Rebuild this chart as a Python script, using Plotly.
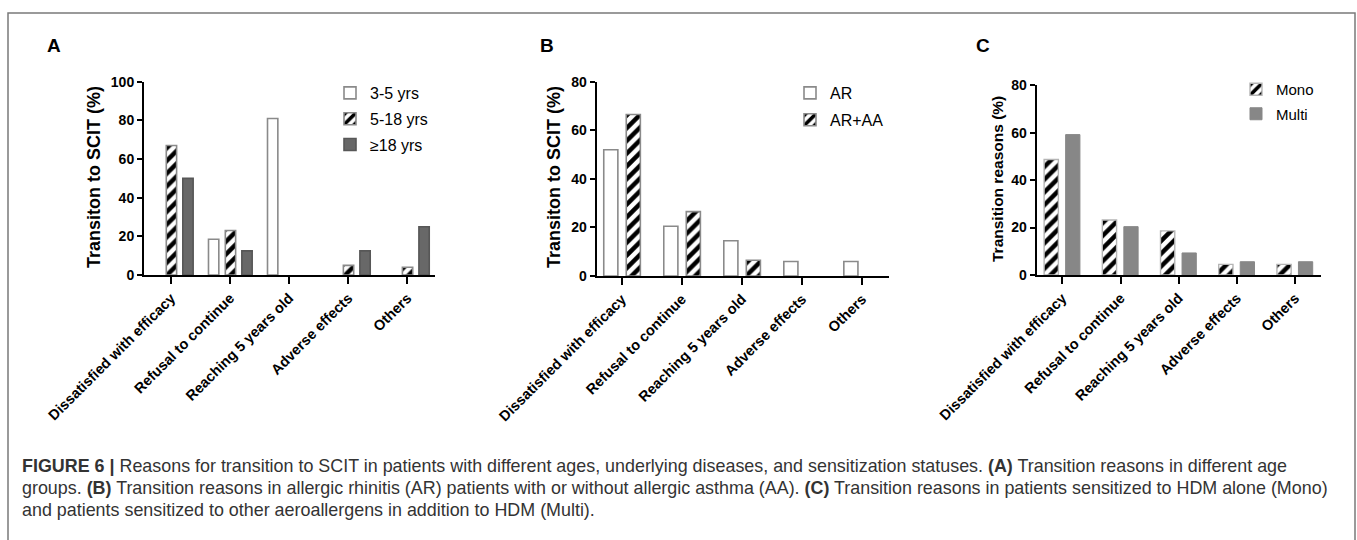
import plotly.graph_objects as go

W, H = 1357, 540

categories = ["Dissatisfied with efficacy", "Refusal to continue", "Reaching 5 years old",
              "Adverse effects", "Others"]

# Panel A: age groups
a_3_5 = [0, 18.5, 81, 0, 0]
a_5_18 = [67, 23, 0, 5, 4]
a_18p = [50, 12.5, 0, 12.5, 25]

# Panel B: AR vs AR+AA
b_ar = [52, 20.5, 14.5, 6, 6]
b_araa = [66.5, 26.5, 6.5, 0, 0]

# Panel C: Mono vs Multi
c_mono = [48.7, 23.2, 18.6, 4.5, 4.5]
c_multi = [59.2, 20.4, 9.3, 5.6, 5.6]

yticks_a = [0, 20, 40, 60, 80, 100]
yticks_bc = [0, 20, 40, 60, 80]

caption_lines = [
    "<b>FIGURE 6 |</b> Reasons for transition to SCIT in patients with different ages, underlying diseases, and sensitization statuses. <b>(A)</b> Transition reasons in different age",
    "groups. <b>(B)</b> Transition reasons in allergic rhinitis (AR) patients with or without allergic asthma (AA). <b>(C)</b> Transition reasons in patients sensitized to HDM alone (Mono)",
    "and patients sensitized to other aeroallergens in addition to HDM (Multi).",
]

FONT = "Liberation Sans, Arial, sans-serif"
GREY_EDGE = "#8a8a8a"


def px_x(x):
    return x / W


def px_y(y):
    return 1 - y / H


def hatch():
    return dict(shape="/", fgcolor="black", bgcolor="white", size=9, solidity=0.5,
                fillmode="replace", fgopacity=1)


def nonzero(vals):
    # empty (zero) bars are simply not drawn
    xs = [c for c, v in zip(categories, vals) if v > 0]
    ys = [v for v in vals if v > 0]
    return xs, ys


def add_bar(vals, name, ax, center, width, marker, legend, group):
    xs, ys = nonzero(vals)
    fig.add_trace(go.Bar(x=xs, y=ys, name=name, xaxis="x" + ax, yaxis="y" + ax,
                         width=width, offset=center - width / 2, marker=marker,
                         legend=legend, legendgroup=group))


fig = go.Figure()

# ---- Panel A ----
wa = 0.175
add_bar(a_3_5, "3-5 yrs", "", -0.28, wa,
        dict(color="white", line=dict(color=GREY_EDGE, width=1.6)), "legend", "a1")
add_bar(a_5_18, "5-18 yrs", "", 0.005, wa,
        dict(color="white", pattern=hatch(), line=dict(color=GREY_EDGE, width=1.6)), "legend", "a2")
add_bar(a_18p, "≥18 yrs", "", 0.285, wa,
        dict(color="#686868", line=dict(color="#575757", width=1.6)), "legend", "a3")

# ---- Panel B ----
wb = 0.235
add_bar(b_ar, "AR", "2", -0.185, wb,
        dict(color="white", line=dict(color=GREY_EDGE, width=1.6)), "legend2", "b1")
add_bar(b_araa, "AR+AA", "2", 0.19, wb,
        dict(color="white", pattern=hatch(), line=dict(color=GREY_EDGE, width=1.6)), "legend2", "b2")

# ---- Panel C ----
wc = 0.245
add_bar(c_mono, "Mono", "3", -0.19, wc,
        dict(color="white", pattern=hatch(), line=dict(color="#b5b5b5", width=1.4)), "legend3", "c1")
add_bar(c_multi, "Multi", "3", 0.18, wc,
        dict(color="#878787", line=dict(color="#878787", width=1)), "legend3", "c2")

xax_common = dict(
    type="category", categoryorder="array", categoryarray=categories,
    showline=True, linecolor="black", linewidth=2,
    ticks="outside", ticklen=7, tickwidth=2, tickcolor="black",
    tickangle=-45, tickfont=dict(family=FONT, size=14.5, color="black", weight="bold"),
    showgrid=False, zeroline=False, fixedrange=True, automargin=False,
)
yax_common = dict(
    showline=True, linecolor="black", linewidth=2,
    ticks="outside", ticklen=5, tickwidth=2, tickcolor="black",
    tickfont=dict(family=FONT, size=14, color="black", weight="bold"),
    showgrid=False, zeroline=False, fixedrange=True, automargin=False,
)

fig.update_layout(
    width=W, height=H, margin=dict(l=0, r=0, t=0, b=0, autoexpand=False),
    paper_bgcolor="white", plot_bgcolor="white",
    barmode="group",
    font=dict(family=FONT, color="black"),
    xaxis=dict(xax_common, domain=[px_x(144), px_x(435)], range=[-0.46, 4.47], anchor="y"),
    yaxis=dict(yax_common, domain=[px_y(275), px_y(81.7)], range=[0, 100], tickvals=yticks_a, anchor="x"),
    xaxis2=dict(xax_common, domain=[px_x(596.7), px_x(889)], range=[-0.42, 4.45], anchor="y2"),
    yaxis2=dict(yax_common, domain=[px_y(276), px_y(81.7)], range=[0, 80], tickvals=yticks_bc, anchor="x2"),
    xaxis3=dict(xax_common, domain=[px_x(1036.7), px_x(1320.7)], range=[-0.44, 4.44], anchor="y3"),
    yaxis3=dict(yax_common, domain=[px_y(275), px_y(85.3)], range=[0, 80], tickvals=yticks_bc, anchor="x3"),
    legend=dict(x=px_x(330), y=px_y(76), xanchor="left", yanchor="top",
                font=dict(family=FONT, size=16, color="black"), tracegroupgap=2,
                bgcolor="rgba(0,0,0,0)"),
    legend2=dict(x=px_x(790), y=px_y(76), xanchor="left", yanchor="top",
                 font=dict(family=FONT, size=16, color="black"), tracegroupgap=3,
                 bgcolor="rgba(0,0,0,0)"),
    legend3=dict(x=px_x(1236), y=px_y(73), xanchor="left", yanchor="top",
                 font=dict(family=FONT, size=15, color="black"), tracegroupgap=2,
                 bgcolor="rgba(0,0,0,0)"),
    showlegend=True,
)

annotations = []
# panel letters
for letter, cx in (("A", 54), ("B", 547), ("C", 983)):
    annotations.append(dict(text=f"<b>{letter}</b>", x=px_x(cx), y=px_y(45), xref="paper", yref="paper",
                            showarrow=False, font=dict(family=FONT, size=19, color="black"),
                            xanchor="center", yanchor="middle"))
# y-axis titles
for txt, cx, cy, sz in (("Transiton to SCIT (%)", 94, 177, 18),
                        ("Transiton to SCIT (%)", 554, 177, 18),
                        ("Transition reasons (%)", 997, 179, 15.5)):
    annotations.append(dict(text=f"<b>{txt}</b>", x=px_x(cx), y=px_y(cy), xref="paper", yref="paper",
                            showarrow=False, textangle=-90, font=dict(family=FONT, size=sz, color="black"),
                            xanchor="center", yanchor="middle"))
# caption
for i, line in enumerate(caption_lines):
    annotations.append(dict(text=line, x=px_x(20), y=px_y(466 + 22 * i), xref="paper", yref="paper",
                            showarrow=False, font=dict(family=FONT, size=17.9, color="#333333"),
                            xanchor="left", yanchor="middle", align="left"))
fig.update_layout(annotations=annotations)

# outer frame
fig.add_shape(type="rect", xref="paper", yref="paper",
              x0=px_x(8), x1=px_x(1355), y0=-0.05, y1=px_y(13),
              line=dict(color="#7a7a7a", width=1.5), fillcolor="rgba(0,0,0,0)", layer="below")

fig.write_html("out.html")
